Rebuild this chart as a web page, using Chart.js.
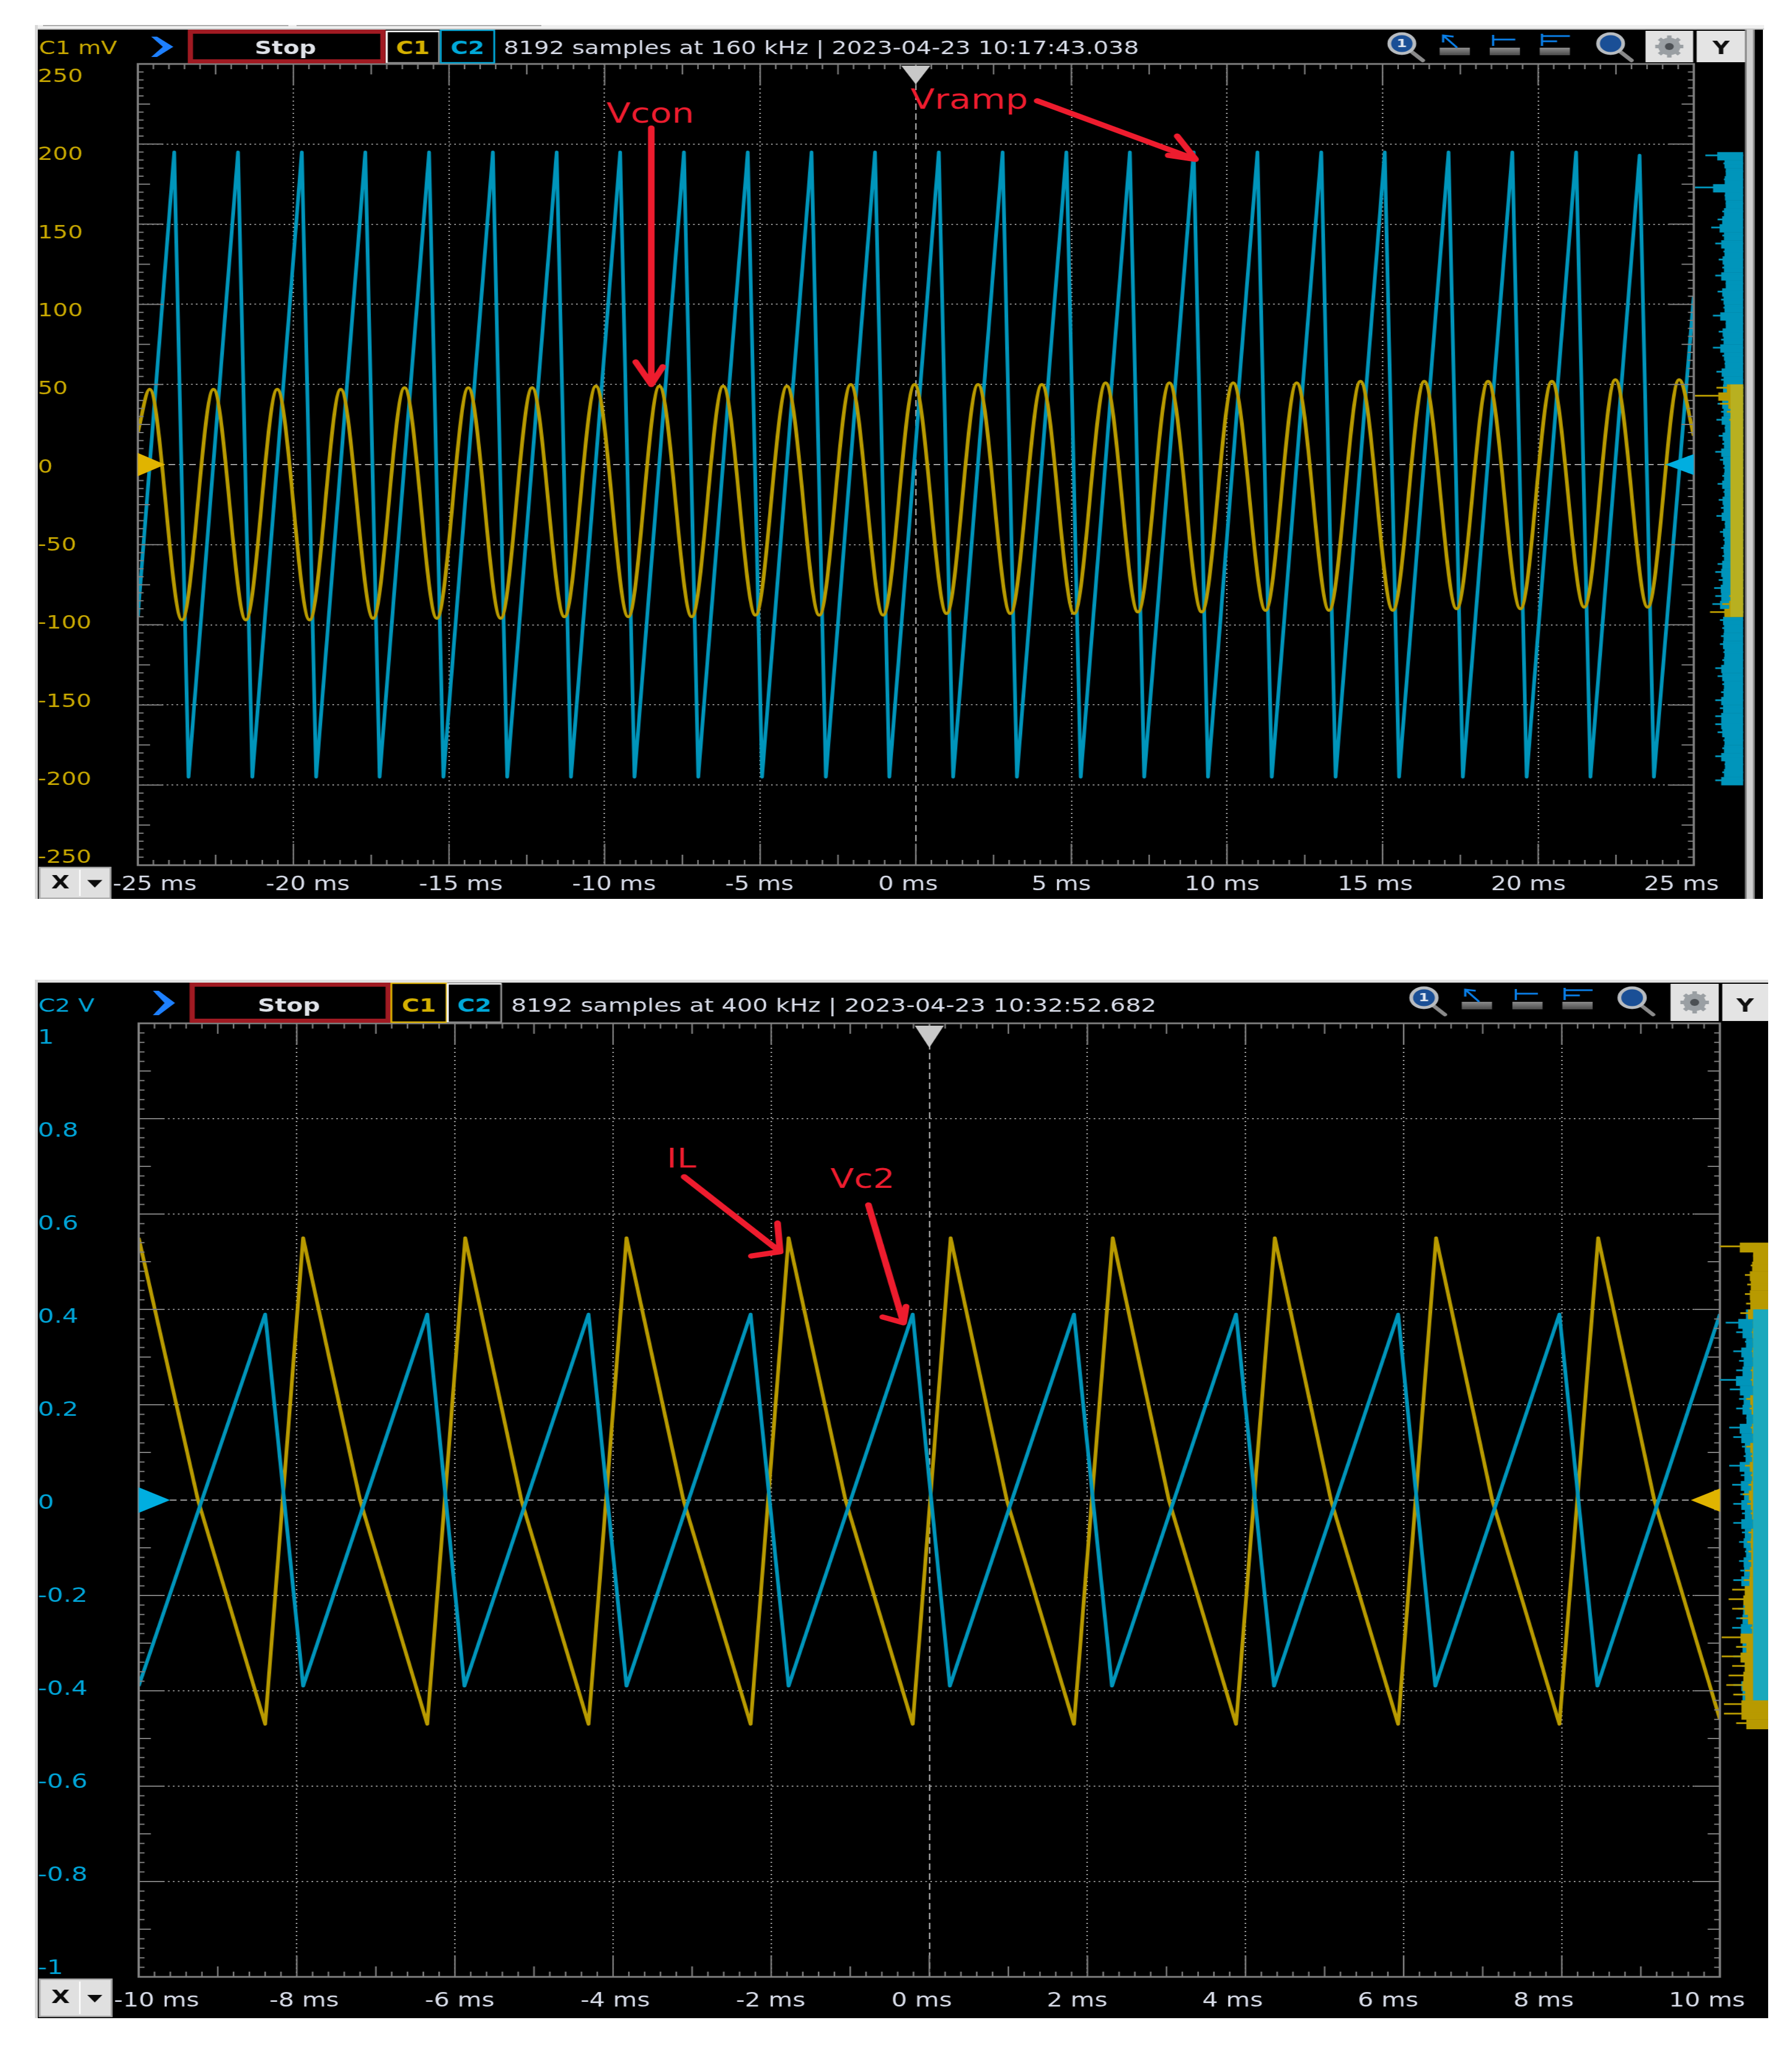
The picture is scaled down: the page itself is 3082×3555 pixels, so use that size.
<!DOCTYPE html>
<html>
<head>
<meta charset="utf-8">
<title>Scope captures</title>
<style>
    html, body { margin: 0; padding: 0; background: #fff; overflow: hidden; }
    body { position: relative; width: 3082px; height: 3555px; }
    canvas, .strip { position: absolute; display: block; }
</style>
<script src="https://cdn.jsdelivr.net/npm/chart.js@4"></script>
</head>
<body>
<canvas id="scopeTop"></canvas>
<canvas id="scopeBottom"></canvas>
<script>
// ---- top capture: C1 mV / C2, 50 ms window ----
const vrampMs = [-25,
    -23.83, -23.37, -21.78, -21.32, -19.73, -19.27, -17.69, -17.23,
    -15.64, -15.18, -13.59, -13.13, -11.54, -11.08, -9.50, -9.04,
    -7.45, -6.99, -5.40, -4.94, -3.35, -2.89, -1.31, -0.85,
    0.74, 1.20, 2.79, 3.25, 4.84, 5.30, 6.88, 7.34,
    8.93, 9.39, 10.98, 11.44, 13.03, 13.49, 15.07, 15.53,
    17.12, 17.58, 19.17, 19.63, 21.22, 21.68, 23.26, 23.72, 25];
const vrampMv = [-95,
    195, -195, 195, -195, 195, -195, 195, -195,
    195, -195, 195, -195, 195, -195, 195, -195,
    195, -195, 195, -195, 195, -195, 195, -195,
    195, -195, 195, -195, 195, -195, 195, -195,
    195, -195, 195, -195, 195, -195, 195, -195,
    195, -195, 195, -195, 195, -195, 193, -195, 105];
const vconMs = [-25,
    -24.62, -23.58, -22.57, -21.53, -20.52, -19.48, -18.48, -17.44,
    -16.43, -15.39, -14.38, -13.34, -12.33, -11.29, -10.28, -9.24,
    -8.24, -7.20, -6.19, -5.15, -4.14, -3.10, -2.09, -1.05,
    -0.04, 0.99, 2.00, 3.04, 4.05, 5.09, 6.10, 7.14,
    8.15, 9.19, 10.20, 11.24, 12.24, 13.28, 14.29, 15.33,
    16.34, 17.38, 18.39, 19.43, 20.44, 21.48, 22.48, 23.52, 24.53, 25];
const vconMv = [20,
    47, -97, 47, -97, 47, -97, 47, -96,
    48, -96, 48, -96, 48, -95, 49, -95,
    49, -95, 49, -94, 49, -94, 50, -94,
    50, -93, 50, -93, 50, -93, 51, -92,
    51, -92, 51, -91, 51, -91, 52, -91,
    52, -90, 52, -90, 52, -89, 53, -89, 53, 18];
const topYTicks = [250, 200, 150, 100, 50, 0, -50, -100, -150, -200, -250];
const topXTicks = [-25, -20, -15, -10, -5, 0, 5, 10, 15, 20, 25];
// side histograms, lengths read in picture pixels, one value per 5 mV
const topHistBlue = [
    65, 34, 30, 33, 83, 32, 30, 36, 44, 55,
    36, 48, 34, 42, 36, 48, 30, 44, 38, 34,
    52, 30, 42, 38, 52, 36, 32, 46, 38, 40,
    36, 44, 38, 46, 32, 42, 36, 48, 40, 34,
    36, 44, 34, 42, 38, 46, 32, 40, 34, 38,
    36, 44, 48, 42, 50, 48, 53, 34, 40, 36,
    38, 40, 34, 36, 48, 44, 36, 38, 48, 40,
    48, 48, 44, 34, 36, 48, 32, 36, 48];
const topHistYellow = [46, 83, 40, 28, 24, 22, 20, 19, 18, 20,
    18, 22, 20, 18, 19, 21, 18, 20, 22, 19,
    18, 20, 22, 19, 20, 22, 24, 36, 57];

// ---- bottom capture: C2 V, 20 ms window ----
const vc2Ms = [-10, -8.40, -7.92, -6.35, -5.88, -4.31, -3.83, -2.26, -1.78, -0.21,
    0.26, 1.83, 2.31, 3.88, 4.36, 5.93, 6.40, 7.97, 8.45, 10];
const vc2V = [-0.39, 0.39, -0.39, 0.39, -0.39, 0.39, -0.39, 0.39, -0.39, 0.39,
    -0.39, 0.39, -0.39, 0.39, -0.39, 0.39, -0.39, 0.39, -0.39, 0.39];
const ilMs = [-10, -9.25, -8.40, -7.92, -7.20, -6.35, -5.87, -5.16, -4.31, -3.83,
    -3.11, -2.26, -1.78, -1.06, -0.21, 0.27, 0.98, 1.83, 2.32, 3.03,
    3.88, 4.37, 5.08, 5.93, 6.41, 7.12, 7.97, 8.46, 9.17, 10];
const ilV = [0.55, 0, -0.47, 0.55, 0, -0.47, 0.55, 0, -0.47, 0.55,
    0, -0.47, 0.55, 0, -0.47, 0.55, 0, -0.47, 0.55, 0,
    -0.47, 0.55, 0, -0.47, 0.55, 0, -0.47, 0.55, 0, -0.46];
const bottomYTicks = [1, 0.8, 0.6, 0.4, 0.2, 0, -0.2, -0.4, -0.6, -0.8, -1];
const bottomXTicks = [-10, -8, -6, -4, -2, 0, 2, 4, 6, 8, 10];
// one value per 0.02 V
const bottomHistBlue = [40, 73, 55, 40, 60, 50, 55, 83, 66, 50,
    55, 38, 67, 60, 45, 42, 67, 47, 62, 48,
    60, 45, 60, 45, 50, 40, 50, 48, 60, 35,
    45, 52, 55, 62, 48, 55, 60, 45, 35, 60, 55];
const bottomHistYellow = [83, 26, 30, 40, 36, 40, 38, 48,
    26, 28, 26, 28, 26, 30, 30, 26, 38, 32,
    26, 30, 26, 38, 30, 40, 30, 34, 44, 36,
    30, 26, 34, 36, 34, 34, 40, 42, 62, 68,
    62, 48, 30, 80, 55, 80, 62, 68, 72,
    60, 76, 76, 55];

const FONT = "'DejaVu Sans'";
const YELLOW = '#b89a00';
const BLUE = '#0095bb';
const RED = '#ee1c2e';
const AXIS_GRAY = '#808080';

Chart.defaults.font.family = FONT;

const topPanel = {
    canvasId: 'scopeTop',
    left: 65, top: 51, right: 3032, bottom: 1546,
    plotLeft: 237, plotRight: 2913, plotTop: 110, plotBottom: 1488,
    logicalWidth: 2336,
    xMin: -25, xMax: 25, xStep: 5, yMin: -250, yMax: 250, yStep: 50,
    labelX: [-24.18, 26.63], labelY: [-254.46, 258.46],
    xTicks: topXTicks, yTicks: topYTicks, labelColor: '#c9a900',
    yLabelPadding: 50, yLabelSize: 32, xLabelPadding: 15,
    histEdge: 2998, histOverlap: '#b8b020',
    hist: [
        { top: 195, step: 5, lens: topHistBlue, base: 31, color: BLUE },
        { top: 50, step: 5, lens: topHistYellow, base: 16, color: YELLOW }
    ],
    overlapBase: 22,
    series: [
        { xs: vrampMs, ys: vrampMv, color: BLUE, smooth: false, order: 2 },
        { xs: vconMs, ys: vconMv, color: YELLOW, smooth: true, order: 1 }
    ],
    name: { text: 'C1 mV', color: '#c9a900', x: 67, base: 93 },
    stop: [323, 663, 51, 109], stopText: 491, chevron: [260, 63, 298, 98],
    c1: [665, 755, 54, 108, '#ffffff'], c2: [758, 850, 52, 108, '#00a8d8'],
    info: { text: '8192 samples at 160 kHz | 2023-04-23 10:17:43.038', x: 866 },
    icons: { mag1: 2411, ruler: [2476, 2562, 2648], mag2: 2770, y0: 57 },
    gear: [2830, 2912, 53, 107], yBtn: [2918, 3002, 53, 107],
    xBtn: [68, 190, 1492, 1545],
    sideBar: true,
    trigger: { top: 113, bottom: 145 },
    leftMark: { color: '#e0b400', tip: 47, half: 20 },
    rightMark: { color: '#00aee0', tip: 49, half: 18 },
    texts: [
        { text: 'Vcon', x: -9.94, y: 213.4, size: 48 },
        { text: 'Vramp', x: -0.17, y: 222, size: 48 }
    ],
    arrows: [
        [[-8.5, 210], [-8.5, 50], [-9.0, 64], [-8.13, 61]],
        [[3.9, 227], [8.99, 190.5], [8.40, 205], [8.11, 193]]
    ]
};

const bottomPanel = {
    canvasId: 'scopeBottom',
    left: 65, top: 1690, right: 3041, bottom: 3471,
    plotLeft: 238.5, plotRight: 2958, plotTop: 1760, plotBottom: 3400,
    logicalWidth: 2307,
    xMin: -10, xMax: 10, xStep: 2, yMin: -1, yMax: 1, yStep: 0.2,
    labelX: [-9.682, 10.658], labelY: [-1.0174, 1.0331],
    xTicks: bottomXTicks, yTicks: bottomYTicks, labelColor: '#00a5d8',
    yLabelPadding: 55, yLabelSize: 34, xLabelPadding: 23,
    histEdge: 3041, histOverlap: '#1aa8bc',
    hist: [
        { top: 0.4, step: 0.02, lens: bottomHistBlue, base: 37, color: BLUE },
        { top: 0.54, step: 0.02, lens: bottomHistYellow, base: 26, color: YELLOW }
    ],
    overlapBase: 26,
    series: [
        { xs: ilMs, ys: ilV, color: YELLOW, smooth: false, order: 2 },
        { xs: vc2Ms, ys: vc2V, color: BLUE, smooth: false, order: 1 }
    ],
    name: { text: 'C2 V', color: '#00a5d8', x: 66, base: 1740 },
    stop: [326, 672, 1690, 1759], stopText: 497, chevron: [263, 1704, 301, 1746],
    c1: [673, 768, 1691, 1758, '#e0b400'], c2: [770, 862, 1692, 1758, '#ffffff'],
    info: { text: '8192 samples at 400 kHz | 2023-04-23 10:32:52.682', x: 879 },
    icons: { mag1: 2449, ruler: [2514, 2601, 2687], mag2: 2807, y0: 1698 },
    gear: [2873, 2956, 1692, 1756], yBtn: [2962, 3041, 1692, 1756],
    xBtn: [68, 192, 3404, 3468],
    sideBar: false,
    trigger: { top: 1764, bottom: 1802 },
    leftMark: { color: '#00aee0', tip: 54, half: 22 },
    rightMark: { color: '#e0b400', tip: 50, half: 20 },
    texts: [
        { text: 'IL', x: -3.32, y: 0.697, size: 46 },
        { text: 'Vc2', x: -1.25, y: 0.655, size: 46 }
    ],
    arrows: [
        [[-3.10, 0.678], [-1.887, 0.521], [-1.92, 0.581], [-2.25, 0.512]],
        [[-0.77, 0.619], [-0.327, 0.372], [-0.294, 0.406], [-0.589, 0.384]]
    ]
};

// white window edges around the black scope panels
function addStrip(x, y, w, h, color) {
    const d = document.createElement('div');
    d.className = 'strip';
    d.style.cssText = `left:${x}px;top:${y}px;width:${w}px;height:${h}px;background:${color}`;
    document.body.appendChild(d);
}
addStrip(60, 43, 2974, 8, '#efefef');
addStrip(60, 49, 2974, 2, '#c4c4c4');
addStrip(74, 43, 422, 2, '#aaaaaa');
addStrip(510, 43, 421, 2, '#aaaaaa');
addStrip(60, 43, 5, 1503, '#d8d8d8');
addStrip(60, 1685, 2981, 5, '#e2e2e2');
addStrip(60, 1685, 5, 1786, '#d8d8d8');

function polygon(ctx, pts, fill) {
    ctx.beginPath();
    pts.forEach((p, i) => (i ? ctx.lineTo(p[0], p[1]) : ctx.moveTo(p[0], p[1])));
    ctx.closePath();
    ctx.fillStyle = fill;
    ctx.fill();
}

// ticks on all four sides of the plot, small / medium / big
function drawFrameTicks(chart, p) {
    const ctx = chart.ctx;
    const { x, y } = chart.scales;
    const S = p.S;
    ctx.save();
    ctx.strokeStyle = AXIS_GRAY;
    ctx.lineWidth = 2;
    ctx.beginPath();
    for (let i = 0; i <= 100; i++) {
        const px = x.getPixelForValue(p.xMin + i * (p.xMax - p.xMin) / 100);
        const len = i % 10 === 0 ? 37 : i % 5 === 0 ? 18 : 9;
        ctx.moveTo(px, y.top); ctx.lineTo(px, y.top + len);
        ctx.moveTo(px, y.bottom); ctx.lineTo(px, y.bottom - len);
    }
    for (let i = 0; i <= 100; i++) {
        const py = y.getPixelForValue(p.yMin + i * (p.yMax - p.yMin) / 100);
        const len = (i % 10 === 0 ? 44 : i % 5 === 0 ? 21 : 10) / S;
        ctx.moveTo(x.left, py); ctx.lineTo(x.left + len, py);
        ctx.moveTo(x.right, py); ctx.lineTo(x.right - len, py);
    }
    ctx.stroke();
    ctx.lineWidth = 3;
    ctx.strokeRect(x.left, y.top, x.right - x.left, y.bottom - y.top);
    ctx.restore();
}

function drawMarkers(chart, p) {
    const ctx = chart.ctx;
    const { x, y } = chart.scales;
    const S = p.S;
    const x0 = x.getPixelForValue(0), y0 = y.getPixelForValue(0);
    polygon(ctx, [[x0 - 25 / S, p.trigger.top - p.top], [x0 + 25 / S, p.trigger.top - p.top],
        [x0, p.trigger.bottom - p.top]], '#c8c8c8');
    polygon(ctx, [[x.left, y0 - p.leftMark.half], [x.left + p.leftMark.tip / S, y0],
        [x.left, y0 + p.leftMark.half]], p.leftMark.color);
    polygon(ctx, [[x.right, y0 - p.rightMark.half], [x.right - p.rightMark.tip / S, y0],
        [x.right, y0 + p.rightMark.half]], p.rightMark.color);
}

// amplitude histogram to the right of the plot: solid base with comb-like spikes
function drawHistograms(chart, p) {
    const ctx = chart.ctx;
    const { y, hx } = chart.scales;
    const edge = hx.getPixelForValue(0);
    ctx.save();
    p.hist.forEach(h => {
        const rowH = Math.abs(y.getPixelForValue(h.step) - y.getPixelForValue(0));
        ctx.fillStyle = h.color;
        h.lens.forEach((len, i) => {
            const py = y.getPixelForValue(h.top - i * h.step);
            const midLen = Math.min(len, h.base + (len - h.base) * 0.4);
            const midX = hx.getPixelForValue(midLen);
            ctx.fillRect(midX, py, edge - midX, rowH + 0.5);
            const spikeX = hx.getPixelForValue(len);
            ctx.fillRect(spikeX, py + rowH * 0.3, edge - spikeX, 3);
        });
    });
    // where both channels fall in the same row the colours mix
    const [a, b] = p.hist;
    const rowH = Math.abs(y.getPixelForValue(a.step) - y.getPixelForValue(0));
    ctx.fillStyle = p.histOverlap;
    const overlapX = hx.getPixelForValue(p.overlapBase);
    const yTop = y.getPixelForValue(Math.min(a.top, b.top));
    const yBot = y.getPixelForValue(Math.max(a.top - (a.lens.length - 1) * a.step,
        b.top - (b.lens.length - 1) * b.step)) + rowH;
    ctx.fillRect(overlapX, yTop, edge - overlapX, yBot - yTop);
    ctx.restore();
}

function drawAnnotations(chart, p) {
    const ctx = chart.ctx;
    const { x, y } = chart.scales;
    const pt = q => [x.getPixelForValue(q[0]), y.getPixelForValue(q[1])];
    ctx.save();
    ctx.fillStyle = RED;
    ctx.strokeStyle = RED;
    ctx.lineCap = 'round';
    ctx.lineJoin = 'round';
    ctx.textBaseline = 'alphabetic';
    ctx.textAlign = 'left';
    p.texts.forEach(t => {
        ctx.font = `${t.size}px ${FONT}`;
        ctx.fillText(t.text, x.getPixelForValue(t.x), y.getPixelForValue(t.y));
    });
    ctx.lineWidth = 9;
    p.arrows.forEach(a => {
        const [s, e, h1, h2] = a.map(pt);
        ctx.beginPath();
        ctx.moveTo(s[0], s[1]); ctx.lineTo(e[0], e[1]);
        ctx.moveTo(h1[0], h1[1]); ctx.lineTo(e[0], e[1]); ctx.lineTo(h2[0], h2[1]);
        ctx.stroke();
    });
    ctx.restore();
}

function drawMagnifier(ctx, p, cx, cy, label) {
    const X = v => (v - p.left) / p.S, Y = v => v - p.top;
    ctx.save();
    ctx.strokeStyle = '#8a8a8a';
    ctx.lineCap = 'round';
    ctx.lineWidth = 6;
    ctx.beginPath();
    ctx.moveTo(X(cx + 18), Y(cy + 15));
    ctx.lineTo(X(cx + 36), Y(cy + 29));
    ctx.stroke();
    ctx.fillStyle = '#1a4f96';
    ctx.strokeStyle = '#b8bcc0';
    ctx.lineWidth = 5;
    ctx.beginPath();
    ctx.arc(X(cx), Y(cy), 17, 0, Math.PI * 2);
    ctx.fill();
    ctx.stroke();
    ctx.fillStyle = '#dfe6f0';
    ctx.font = `bold 20px ${FONT}`;
    ctx.textAlign = 'center';
    ctx.textBaseline = 'middle';
    ctx.fillText(label, X(cx), Y(cy) + 1);
    ctx.restore();
}

function drawRulerIcon(ctx, p, x0, y0, kind) {
    const X = v => (v - p.left) / p.S, Y = v => v - p.top;
    const w = 52;
    ctx.save();
    const grad = ctx.createLinearGradient(0, Y(y0 + 25), 0, Y(y0 + 38));
    grad.addColorStop(0, '#8c8c8c');
    grad.addColorStop(1, '#4a4a4a');
    ctx.fillStyle = grad;
    ctx.fillRect(X(x0), Y(y0 + 25), w / p.S, 13);
    ctx.strokeStyle = '#0a7fe8';
    ctx.lineWidth = 3;
    ctx.beginPath();
    if (kind === 0) {
        // arrow pointing up-left
        ctx.moveTo(X(x0 + 30), Y(y0 + 25)); ctx.lineTo(X(x0 + 6), Y(y0 + 4));
        ctx.moveTo(X(x0 + 6), Y(y0 + 16)); ctx.lineTo(X(x0 + 6), Y(y0 + 4)); ctx.lineTo(X(x0 + 24), Y(y0 + 6));
    } else if (kind === 1) {
        ctx.moveTo(X(x0 + 6), Y(y0 + 3)); ctx.lineTo(X(x0 + 6), Y(y0 + 22));
        ctx.moveTo(X(x0 + 6), Y(y0 + 11)); ctx.lineTo(X(x0 + 44), Y(y0 + 11));
    } else {
        ctx.moveTo(X(x0 + 4), Y(y0 + 1)); ctx.lineTo(X(x0 + 4), Y(y0 + 22));
        ctx.moveTo(X(x0 + 4), Y(y0 + 5)); ctx.lineTo(X(x0 + 52), Y(y0 + 5));
        ctx.moveTo(X(x0 + 4), Y(y0 + 14)); ctx.lineTo(X(x0 + 30), Y(y0 + 14));
    }
    ctx.stroke();
    ctx.restore();
}

function drawGearButton(ctx, p, b) {
    const X = v => (v - p.left) / p.S, Y = v => v - p.top;
    ctx.save();
    ctx.fillStyle = '#e2e2e2';
    ctx.fillRect(X(b[0]), Y(b[2]), (b[1] - b[0]) / p.S, b[3] - b[2]);
    const cx = X((b[0] + b[1]) / 2), cy = Y((b[2] + b[3]) / 2);
    ctx.fillStyle = '#9a9fa3';
    ctx.strokeStyle = '#9a9fa3';
    ctx.lineWidth = 6;
    ctx.beginPath();
    for (let i = 0; i < 8; i++) {
        const a = i * Math.PI / 4;
        ctx.moveTo(cx + Math.cos(a) * 10, cy + Math.sin(a) * 10);
        ctx.lineTo(cx + Math.cos(a) * 19, cy + Math.sin(a) * 19);
    }
    ctx.stroke();
    ctx.beginPath();
    ctx.arc(cx, cy, 15, 0, Math.PI * 2);
    ctx.fill();
    ctx.fillStyle = '#4c5054';
    ctx.beginPath();
    ctx.arc(cx, cy, 6, 0, Math.PI * 2);
    ctx.fill();
    ctx.restore();
}

// selected channel box is raised: white top/left, grey right/bottom
function drawChannelBox(ctx, X, Y, b, S) {
    const x0 = X(b[0]), x1 = X(b[1]), y0 = Y(b[2]), y1 = Y(b[3]);
    ctx.lineWidth = 2.5;
    if (b[4] === '#ffffff') {
        ctx.strokeStyle = '#8a8a8a';
        ctx.strokeRect(x0, y0, (b[1] - b[0]) / S, b[3] - b[2]);
        ctx.strokeStyle = '#ffffff';
        ctx.beginPath();
        ctx.moveTo(x0, y1); ctx.lineTo(x0, y0); ctx.lineTo(x1, y0);
        ctx.stroke();
    } else {
        ctx.strokeStyle = b[4];
        ctx.strokeRect(x0, y0, (b[1] - b[0]) / S, b[3] - b[2]);
    }
}

// toolbar and the X / Y buttons
function drawChrome(chart, p) {
    const ctx = chart.ctx;
    const X = v => (v - p.left) / p.S, Y = v => v - p.top;
    const boxW = b => (b[1] - b[0]) / p.S;
    ctx.save();
    ctx.textAlign = 'left';
    ctx.textBaseline = 'alphabetic';

    ctx.font = `32px ${FONT}`;
    ctx.fillStyle = p.name.color;
    ctx.fillText(p.name.text, X(p.name.x), Y(p.name.base));

    const c = p.chevron;
    polygon(ctx, [[X(c[0]), Y(c[1])], [X(c[0] + 10), Y(c[1])], [X(c[2]), Y((c[1] + c[3]) / 2)],
        [X(c[0] + 10), Y(c[3])], [X(c[0]), Y(c[3])], [X(c[0] + 20), Y((c[1] + c[3]) / 2)]], '#1e80ff');

    // Stop box
    const st = p.stop;
    ctx.fillStyle = '#a01a22';
    ctx.fillRect(X(st[0]), Y(st[2]), boxW(st), st[3] - st[2]);
    ctx.fillStyle = '#000';
    ctx.fillRect(X(st[0] + 9), Y(st[2] + 7), (st[1] - st[0] - 18) / p.S, st[3] - st[2] - 14);
    ctx.font = `bold 32px ${FONT}`;
    ctx.fillStyle = '#dfe2e8';
    ctx.textAlign = 'center';
    ctx.fillText('Stop', X(p.stopText), Y(p.name.base));

    // channel boxes
    [[p.c1, 'C1', '#d4b000'], [p.c2, 'C2', '#00a8d8']].forEach(([b, label, color]) => {
        drawChannelBox(ctx, X, Y, b, p.S);
        ctx.font = `bold 32px ${FONT}`;
        ctx.fillStyle = color;
        ctx.fillText(label, X((b[0] + b[1]) / 2), Y(p.name.base));
    });

    ctx.textAlign = 'left';
    ctx.font = `32.4px ${FONT}`;
    ctx.fillStyle = '#d8dce8';
    ctx.fillText(p.info.text, X(p.info.x), Y(p.name.base));

    const ic = p.icons;
    drawMagnifier(ctx, p, ic.mag1, ic.y0 + 18, '1');
    ic.ruler.forEach((rx, i) => drawRulerIcon(ctx, p, rx, ic.y0, i));
    drawMagnifier(ctx, p, ic.mag2, ic.y0 + 18, '');
    drawGearButton(ctx, p, p.gear);

    ctx.fillStyle = '#e4e4e4';
    ctx.fillRect(X(p.yBtn[0]), Y(p.yBtn[2]), boxW(p.yBtn), p.yBtn[3] - p.yBtn[2]);
    ctx.fillStyle = '#101010';
    ctx.font = `bold 32px ${FONT}`;
    ctx.textAlign = 'center';
    ctx.fillText('Y', X((p.yBtn[0] + p.yBtn[1]) / 2), Y(p.name.base));

    // grey bar on the right of the top window
    if (p.sideBar) {
        ctx.fillStyle = '#858585';
        ctx.fillRect(X(3001), 0, 17 / p.S, chart.height);
        ctx.fillStyle = '#d0d0d0';
        ctx.fillRect(X(3004), 0, 11 / p.S, chart.height);
    }

    // X button with its drop-down arrow
    const xb = p.xBtn;
    ctx.fillStyle = '#e0e0e0';
    ctx.fillRect(X(xb[0]), Y(xb[2]), boxW(xb), xb[3] - xb[2]);
    ctx.strokeStyle = '#a8a8a8';
    ctx.lineWidth = 2.5;
    ctx.strokeRect(X(xb[0]), Y(xb[2]), boxW(xb), xb[3] - xb[2]);
    ctx.fillStyle = '#ffffff';
    ctx.fillRect(X(xb[0] + 68), Y(xb[2] + 4), 2, xb[3] - xb[2] - 8);
    ctx.fillStyle = '#0c0c0c';
    ctx.font = `bold 32px ${FONT}`;
    ctx.textAlign = 'center';
    ctx.textBaseline = 'middle';
    ctx.fillText('X', X(xb[0] + 36), Y((xb[2] + xb[3]) / 2) + 1);
    const cy = Y((xb[2] + xb[3]) / 2);
    polygon(ctx, [[X(xb[0] + 82), cy - 5], [X(xb[0] + 108), cy - 5], [X(xb[0] + 95), cy + 8]], '#0c0c0c');
    ctx.restore();
}

const scopePlugin = {
    id: 'scopePlugin',
    beforeDraw(chart) {
        chart.ctx.save();
        chart.ctx.fillStyle = '#000';
        chart.ctx.fillRect(0, 0, chart.width, chart.height);
        chart.ctx.restore();
    },
    afterDatasetsDraw(chart) {
        const p = chart.options.plugins.scopePlugin.panel;
        drawFrameTicks(chart, p);
        drawMarkers(chart, p);
        drawHistograms(chart, p);
        drawAnnotations(chart, p);
    },
    afterDraw(chart) {
        drawChrome(chart, chart.options.plugins.scopePlugin.panel);
    }
};

function fixed(widthOrHeight) {
    return scale => {
        scale.paddingLeft = scale.paddingRight = scale.paddingTop = scale.paddingBottom = 0;
        if (scale.isHorizontal()) scale.height = widthOrHeight;
        else scale.width = widthOrHeight;
    };
}

function makeChart(p) {
    const canvas = document.getElementById(p.canvasId);
    const realW = p.right - p.left, realH = p.bottom - p.top;
    p.S = realW / p.logicalWidth;
    canvas.width = p.logicalWidth;
    canvas.height = realH;
    // text on these scopes is wider than tall, so the canvas is stretched sideways
    canvas.style.cssText = `left:${p.left}px;top:${p.top}px;width:${realW}px;height:${realH}px`;

    return new Chart(canvas.getContext('2d'), {
        type: 'line',
        data: {
            datasets: p.series.map(s => ({
                data: s.xs.map((v, i) => ({ x: v, y: s.ys[i] })),
                borderColor: s.color,
                borderWidth: 5,
                borderJoinStyle: 'round',
                pointRadius: 0,
                order: s.order,
                tension: 0,
                cubicInterpolationMode: s.smooth ? 'monotone' : 'default',
                xAxisID: 'x',
                yAxisID: 'y'
            }))
        },
        options: {
            responsive: false,
            animation: false,
            devicePixelRatio: 1,
            maintainAspectRatio: false,
            layout: {
                padding: {
                    left: 0, top: p.plotTop - p.top, bottom: 0,
                    right: (p.right - p.plotRight) / p.S
                }
            },
            plugins: {
                legend: { display: false },
                tooltip: { enabled: false },
                scopePlugin: { panel: p }
            },
            scales: {
                x: {
                    type: 'linear', position: 'bottom', min: p.xMin, max: p.xMax,
                    afterFit: fixed(0),
                    ticks: { display: false, stepSize: p.xStep },
                    grid: { color: '#a0a0a0', lineWidth: 2, drawTicks: false },
                    border: {
                        display: false,
                        dash: ctx => (ctx.tick && ctx.tick.value === 0 ? [11, 6] : [2, 5])
                    }
                },
                y: {
                    type: 'linear', position: 'left', min: p.yMin, max: p.yMax,
                    afterFit: fixed(0),
                    ticks: { display: false, stepSize: p.yStep },
                    grid: { color: '#a0a0a0', lineWidth: 2, drawTicks: false },
                    border: {
                        display: false,
                        dash: ctx => (ctx.tick && Math.abs(ctx.tick.value) < 1e-9 ? [9, 5] : [2, 4.6])
                    }
                },
                // these two only carry the labels, the scope spaces them a bit tighter than its grid
                xl: {
                    type: 'linear', position: 'bottom', min: p.labelX[0], max: p.labelX[1],
                    afterBuildTicks: scale => { scale.ticks = p.xTicks.map(v => ({ value: v })); },
                    afterFit: fixed(p.bottom - p.plotBottom),
                    grid: { display: false, drawTicks: false },
                    border: { display: false },
                    ticks: {
                        align: 'start', autoSkip: false, maxRotation: 0, padding: p.xLabelPadding,
                        color: '#d8dce8', font: { size: 33, family: FONT },
                        callback: v => `${v} ms`
                    }
                },
                yl: {
                    type: 'linear', position: 'left', min: p.labelY[0], max: p.labelY[1],
                    afterBuildTicks: scale => { scale.ticks = p.yTicks.map(v => ({ value: v })); },
                    afterFit: fixed((p.plotLeft - p.left) / p.S),
                    grid: { display: false, drawTicks: false },
                    border: { display: false },
                    ticks: {
                        crossAlign: 'far', autoSkip: false, padding: p.yLabelPadding,
                        color: p.labelColor, font: { size: p.yLabelSize, family: FONT },
                        callback: v => String(v)
                    }
                },
                // histogram length in picture pixels, measured leftwards from the panel edge
                hx: {
                    type: 'linear', axis: 'x', display: false, reverse: true,
                    min: p.histEdge - p.plotRight, max: p.histEdge - p.plotLeft
                }
            }
        },
        plugins: [scopePlugin]
    });
}

makeChart(topPanel);
makeChart(bottomPanel);
</script>
</body>
</html>
